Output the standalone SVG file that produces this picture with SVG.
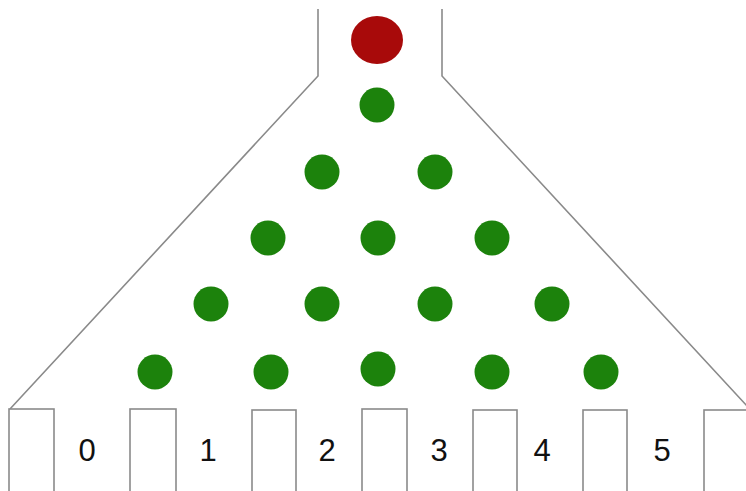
<svg xmlns="http://www.w3.org/2000/svg" width="746" height="491" viewBox="0 0 746 491">
<style>
.wall{fill:none;stroke:#8a8a8a;stroke-width:1.6}
.bin{fill:#fff;stroke:#8a8a8a;stroke-width:1.6}
.peg{fill:#1c820c}
.ball{fill:#a80a0a}
.lbl{font-family:"Liberation Sans","Open Sans",sans-serif;font-size:31px;fill:#111;text-anchor:middle}
</style>
<rect width="746" height="491" fill="#fff"/>
<g id="funnel">
<polyline class="wall" points="318,9 318,76 10,409"/>
<polyline class="wall" points="442,9 442,76 748,407"/>
</g>
<g id="ball"><ellipse class="ball" cx="377" cy="40" rx="26" ry="24"/></g>
<g id="pegs">
<circle class="peg" cx="377" cy="105" r="17.5"/>
<circle class="peg" cx="322" cy="172" r="17.5"/>
<circle class="peg" cx="435" cy="172" r="17.5"/>
<circle class="peg" cx="268" cy="238" r="17.5"/>
<circle class="peg" cx="378" cy="238" r="17.5"/>
<circle class="peg" cx="492" cy="238" r="17.5"/>
<circle class="peg" cx="211" cy="304" r="17.5"/>
<circle class="peg" cx="322" cy="304" r="17.5"/>
<circle class="peg" cx="435" cy="304" r="17.5"/>
<circle class="peg" cx="552" cy="304" r="17.5"/>
<circle class="peg" cx="155" cy="372" r="17.5"/>
<circle class="peg" cx="271" cy="372" r="17.5"/>
<circle class="peg" cx="378" cy="369" r="17.5"/>
<circle class="peg" cx="492" cy="372" r="17.5"/>
<circle class="peg" cx="601" cy="372" r="17.5"/>
</g>
<g id="bins">
<rect class="bin" x="9" y="409" width="45" height="90"/>
<rect class="bin" x="130" y="409" width="46" height="90"/>
<rect class="bin" x="252" y="410" width="44" height="90"/>
<rect class="bin" x="362" y="409" width="45" height="90"/>
<rect class="bin" x="473" y="410" width="44" height="90"/>
<rect class="bin" x="583" y="410" width="44" height="90"/>
<rect class="bin" x="704" y="410" width="50" height="90"/>
</g>
<g id="labels">
<text class="lbl" x="87" y="461">0</text>
<text class="lbl" x="208" y="461">1</text>
<text class="lbl" x="327" y="461">2</text>
<text class="lbl" x="439" y="461">3</text>
<text class="lbl" x="542" y="461">4</text>
<text class="lbl" x="662" y="461">5</text>
</g>
</svg>
